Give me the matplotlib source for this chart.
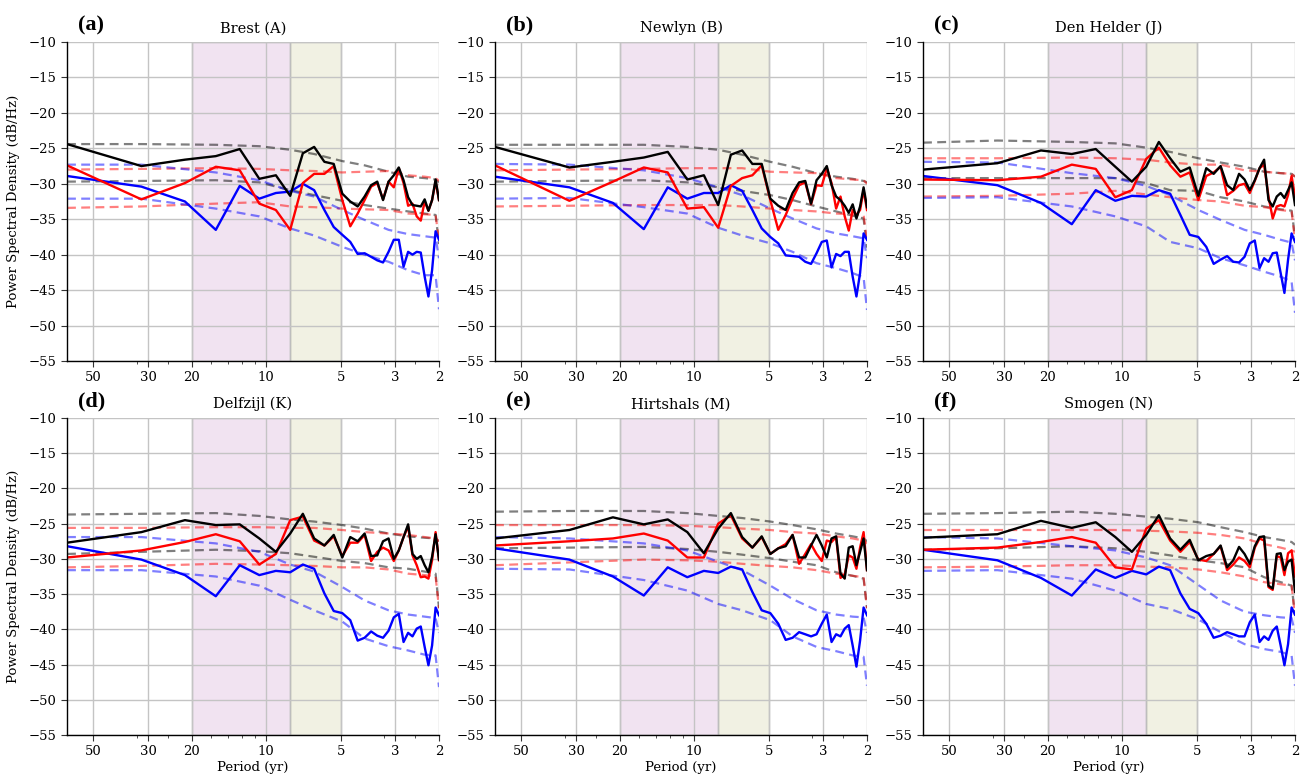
import numpy as np
import matplotlib
matplotlib.use("Agg")
import matplotlib.pyplot as plt
from matplotlib.ticker import FixedLocator, FixedFormatter, NullFormatter, LogLocator

plt.rcParams["font.family"] = ["DejaVu Serif"]
plt.rcParams["axes.unicode_minus"] = True

# ---------------- data ----------------
RECORD_YEARS = 64
HARMONICS = list(range(1, 33))                 # spectral bins k -> frequency k/64 cpy
DASH_HARMONICS = [1, 2, 4, 6, 8, 10, 13, 16, 20, 24, 28, 31, 32]

STATIONS = ["Brest (A)", "Newlyn (B)", "Den Helder (J)",
            "Delfzijl (K)", "Hirtshals (M)", "Smogen (N)"]
PANEL_LABELS = ["(a)", "(b)", "(c)", "(d)", "(e)", "(f)"]

PERIOD_TICKS = [50, 30, 20, 10, 5, 3, 2]
PERIOD_TICK_LABELS = ["50", "30", "20", "10", "5", "3", "2"]
PSD_TICKS = [-10, -15, -20, -25, -30, -35, -40, -45, -50, -55]
BAND_DECADAL = (20, 8)
BAND_INTERANNUAL = (8, 5)

# Brest (A)
BREST_BLACK = [-24.4, -27.5, -26.6, -26.1, -25.1, -29.3, -28.8, -31.7, -25.7, -24.8, -26.9, -27.2,
               -31.4, -32.5, -33.2, -31.8, -30.2, -29.7, -32.3, -29.7, -28.8, -27.7, -29.5, -31.9,
               -33.0, -33.1, -33.2, -32.2, -33.8, -32.3, -29.4, -32.3]
BREST_RED = [-27.4, -32.2, -29.9, -27.6, -28.1, -32.8, -33.7, -36.5, -29.9, -28.6, -28.6, -27.5,
             -32.3, -36.0, -34.2, -32.3, -30.4, -29.9, -32.2, -29.7, -30.5, -27.8, -29.9, -33.1,
             -32.8, -34.6, -35.2, -32.5, -33.8, -32.3, -29.7, -32.3]
BREST_BLUE = [-28.9, -30.4, -32.5, -36.5, -30.3, -32.1, -31.3, -31.1, -30.0, -30.9, -33.7, -36.1,
              -37.2, -38.2, -39.9, -39.8, -40.3, -40.8, -41.1, -39.6, -37.9, -37.9, -41.7, -39.6,
              -40.0, -39.6, -39.7, -43.1, -45.9, -42.2, -36.7, -37.9]
BREST_BLACK_HI = [-24.4, -24.4, -24.5, -24.7, -25.2, -25.8, -26.8, -27.4, -28.3, -29.0, -29.2, -29.4, -29.8]
BREST_BLACK_LO = [-29.7, -29.6, -29.5, -29.8, -30.9, -31.6, -32.4, -33.0, -33.5, -33.9, -34.2, -34.4, -38.5]
BREST_RED_HI = [-28.0, -27.9, -27.8, -27.9, -28.1, -28.2, -28.4, -28.3, -28.2, -28.8, -29.0, -29.2, -29.6]
BREST_RED_LO = [-33.4, -33.2, -32.8, -32.6, -33.2, -33.3, -33.5, -33.6, -33.7, -34.2, -34.3, -34.4, -38.0]
BREST_BLUE_HI = [-27.3, -27.3, -28.4, -29.5, -31.0, -31.8, -33.7, -35.1, -36.5, -37.1, -37.4, -37.6, -40.5]
BREST_BLUE_LO = [-32.1, -32.1, -33.5, -34.6, -36.3, -37.3, -38.9, -40.0, -41.0, -42.2, -42.9, -42.9, -47.7]

# Newlyn (B)
NEWLYN_BLACK = [-24.8, -27.7, -26.9, -26.3, -25.5, -29.4, -28.8, -33.0, -25.9, -25.3, -27.2, -27.2,
                -32.1, -33.1, -33.7, -31.3, -29.8, -29.6, -32.8, -29.5, -28.6, -27.5, -30.2, -31.8,
                -32.3, -33.1, -34.1, -32.9, -34.9, -33.2, -30.5, -33.3]
NEWLYN_RED = [-27.4, -32.4, -29.7, -27.7, -28.4, -33.5, -33.3, -36.2, -30.3, -29.2, -28.8, -27.4,
              -32.3, -36.5, -34.4, -32.1, -30.2, -29.8, -32.9, -30.2, -30.3, -27.8, -29.9, -33.5,
              -31.8, -34.6, -36.6, -33.7, -34.4, -33.7, -30.9, -33.7]
NEWLYN_BLUE = [-29.0, -30.5, -32.7, -36.4, -30.5, -32.1, -31.3, -31.3, -30.2, -31.0, -33.7, -36.3,
               -37.5, -38.4, -40.1, -40.2, -40.3, -41.0, -41.3, -39.8, -38.2, -38.0, -41.8, -39.9,
               -40.2, -39.6, -39.6, -43.1, -45.9, -42.6, -37.0, -37.9]
NEWLYN_BLACK_HI = [-24.5, -24.5, -24.5, -24.8, -25.2, -25.9, -26.9, -27.6, -28.5, -29.0, -29.3, -29.6, -29.8]
NEWLYN_BLACK_LO = [-29.7, -29.6, -29.5, -29.8, -30.5, -31.0, -31.6, -32.3, -33.2, -33.9, -34.5, -34.9, -39.0]
NEWLYN_RED_HI = [-28.1, -28.0, -27.9, -27.8, -27.8, -27.8, -28.3, -28.4, -28.5, -29.2, -29.4, -29.5, -30.0]
NEWLYN_RED_LO = [-33.2, -33.1, -33.0, -33.0, -33.0, -33.2, -33.5, -33.7, -33.9, -34.2, -34.3, -34.4, -38.0]
NEWLYN_BLUE_HI = [-27.2, -27.3, -28.1, -29.2, -30.5, -31.6, -33.5, -34.9, -36.3, -37.0, -37.4, -37.7, -40.5]
NEWLYN_BLUE_LO = [-32.1, -32.0, -33.3, -34.2, -36.2, -37.3, -38.4, -39.6, -41.2, -41.9, -42.6, -43.2, -47.8]

# Den Helder (J)
DENHELDER_BLACK = [-28.0, -27.1, -25.3, -25.8, -25.1, -27.6, -29.7, -27.6, -24.1, -26.4, -28.3, -27.7,
                   -31.7, -27.8, -28.6, -27.5, -30.2, -30.9, -28.6, -29.4, -30.9, -29.5, -27.8, -26.6,
                   -32.3, -33.2, -31.8, -31.3, -32.0, -30.9, -29.8, -33.0]
DENHELDER_RED = [-29.4, -29.5, -29.0, -27.3, -27.9, -31.9, -30.9, -26.5, -24.9, -27.4, -29.0, -28.4,
                 -32.3, -28.9, -28.4, -27.6, -31.6, -31.0, -30.2, -30.0, -31.3, -29.6, -27.8, -27.3,
                 -31.8, -34.9, -33.2, -33.0, -33.2, -31.6, -28.9, -31.8]
DENHELDER_BLUE = [-28.9, -30.2, -32.7, -35.7, -30.9, -32.4, -31.7, -31.8, -30.9, -31.4, -34.4, -37.2,
                  -37.5, -38.9, -41.3, -40.7, -40.2, -41.0, -41.1, -40.3, -38.4, -38.0, -41.9, -40.5,
                  -41.0, -39.8, -39.7, -42.6, -45.4, -40.7, -37.0, -38.2]
DENHELDER_BLACK_HI = [-24.2, -23.9, -24.1, -24.3, -24.9, -25.5, -26.4, -27.0, -27.6, -28.3, -28.5, -28.6, -29.0]
DENHELDER_BLACK_LO = [-29.2, -29.2, -29.2, -29.2, -29.9, -30.9, -31.0, -31.9, -32.5, -33.2, -33.6, -33.8, -37.5]
DENHELDER_RED_HI = [-26.4, -26.4, -26.3, -26.4, -26.6, -27.0, -27.3, -27.3, -28.1, -28.3, -28.5, -28.6, -29.0]
DENHELDER_RED_LO = [-31.8, -31.7, -31.4, -31.0, -31.5, -31.9, -32.3, -32.5, -33.1, -33.3, -33.7, -33.9, -38.0]
DENHELDER_BLUE_HI = [-26.9, -27.0, -28.5, -29.2, -30.3, -31.6, -33.7, -35.1, -36.5, -37.2, -37.9, -38.3, -40.8]
DENHELDER_BLUE_LO = [-32.0, -31.9, -33.2, -34.6, -36.0, -38.2, -39.1, -40.5, -41.5, -42.4, -43.1, -43.8, -48.2]

# Delfzijl (K)
DELFZIJL_BLACK = [-27.7, -26.2, -24.5, -25.2, -25.1, -27.1, -29.0, -26.4, -23.6, -27.1, -28.1, -26.6,
                  -29.8, -26.9, -27.5, -26.4, -29.6, -29.5, -27.5, -27.1, -30.0, -28.8, -26.9, -25.1,
                  -29.3, -30.0, -29.6, -30.9, -31.9, -29.7, -26.5, -30.1]
DELFZIJL_RED = [-29.8, -28.8, -27.6, -26.5, -27.5, -30.8, -29.3, -24.5, -24.0, -27.4, -28.1, -26.8,
                -29.6, -27.7, -27.7, -26.6, -30.3, -29.0, -28.4, -28.8, -30.3, -28.8, -26.9, -25.4,
                -29.5, -30.9, -32.6, -32.5, -32.8, -30.2, -26.2, -30.2]
DELFZIJL_BLUE = [-28.2, -30.1, -32.3, -35.3, -30.9, -32.3, -31.7, -31.9, -30.8, -31.4, -34.9, -37.4,
                 -37.7, -38.7, -41.6, -41.2, -40.3, -40.9, -41.2, -40.2, -38.3, -37.8, -41.8, -40.5,
                 -41.0, -39.9, -39.6, -42.5, -45.1, -42.3, -36.9, -38.0]
DELFZIJL_BLACK_HI = [-23.7, -23.6, -23.5, -23.9, -24.4, -24.7, -25.2, -25.7, -26.4, -26.8, -27.0, -27.1, -27.5]
DELFZIJL_BLACK_LO = [-29.3, -29.0, -28.7, -28.9, -29.2, -29.7, -30.3, -30.6, -31.2, -31.4, -31.8, -32.1, -37.0]
DELFZIJL_RED_HI = [-25.6, -25.6, -25.5, -25.5, -25.6, -25.6, -25.9, -26.2, -26.4, -26.6, -26.9, -27.1, -27.5]
DELFZIJL_RED_LO = [-31.2, -31.0, -30.7, -30.8, -30.9, -31.0, -31.2, -31.2, -31.5, -32.1, -32.3, -32.5, -37.0]
DELFZIJL_BLUE_HI = [-26.9, -26.9, -27.8, -29.0, -30.8, -31.8, -34.0, -35.9, -37.3, -37.9, -38.2, -38.4, -40.5]
DELFZIJL_BLUE_LO = [-31.6, -31.6, -32.5, -33.8, -35.8, -37.3, -38.9, -41.3, -42.4, -43.0, -43.6, -43.7, -48.2]

# Hirtshals (M)
HIRTSHALS_BLACK = [-27.1, -25.9, -24.1, -25.1, -24.4, -26.2, -29.2, -25.7, -23.5, -26.9, -28.4, -26.8,
                   -29.3, -28.5, -28.2, -26.6, -29.8, -29.8, -28.1, -26.6, -28.1, -29.8, -27.1, -26.8,
                   -32.1, -32.8, -28.4, -28.2, -30.9, -29.0, -27.1, -31.6]
HIRTSHALS_RED = [-28.1, -27.5, -27.1, -26.4, -27.4, -29.8, -29.8, -25.0, -23.8, -27.1, -28.4, -26.9,
                 -29.3, -28.5, -27.9, -26.6, -30.7, -29.3, -27.9, -29.3, -30.3, -27.4, -27.6, -26.9,
                 -32.7, -32.2, -29.5, -29.8, -31.4, -28.4, -26.2, -31.6]
HIRTSHALS_BLUE = [-28.5, -30.1, -32.5, -35.2, -31.2, -32.6, -31.7, -32.0, -31.1, -31.5, -34.7, -37.3,
                  -37.7, -39.2, -41.5, -41.2, -40.4, -40.7, -41.0, -40.7, -39.2, -37.9, -41.8, -40.7,
                  -41.0, -39.9, -39.4, -42.3, -45.3, -41.6, -36.9, -38.0]
HIRTSHALS_BLACK_HI = [-23.3, -23.2, -23.2, -23.5, -23.9, -24.2, -24.7, -25.2, -25.8, -26.4, -26.8, -27.1, -27.5]
HIRTSHALS_BLACK_LO = [-28.5, -28.4, -28.3, -28.6, -29.0, -29.4, -29.9, -30.4, -30.9, -31.9, -32.4, -32.8, -37.0]
HIRTSHALS_RED_HI = [-25.2, -25.2, -25.2, -25.3, -25.5, -25.7, -25.9, -26.2, -26.4, -26.8, -27.1, -27.4, -27.8]
HIRTSHALS_RED_LO = [-30.9, -30.5, -30.1, -30.2, -30.4, -30.7, -31.0, -31.2, -31.6, -32.1, -32.4, -32.6, -37.0]
HIRTSHALS_BLUE_HI = [-26.9, -27.1, -27.8, -28.8, -30.4, -31.6, -33.8, -35.7, -37.3, -37.9, -38.2, -38.3, -40.5]
HIRTSHALS_BLUE_LO = [-31.4, -31.5, -33.0, -34.5, -36.4, -37.3, -38.7, -41.0, -42.5, -43.1, -43.7, -43.9, -48.0]

# Smogen (N)
SMOGEN_BLACK = [-27.0, -26.5, -24.6, -25.6, -24.8, -26.9, -29.0, -26.6, -23.8, -27.1, -28.7, -27.3,
                -30.2, -29.6, -29.3, -28.1, -31.2, -30.2, -28.3, -29.3, -30.7, -28.2, -26.9, -26.8,
                -33.8, -34.2, -29.3, -29.2, -31.6, -30.4, -30.1, -34.7]
SMOGEN_RED = [-28.7, -28.4, -27.6, -26.9, -27.7, -31.2, -31.5, -25.7, -24.5, -27.4, -29.0, -27.6,
              -30.1, -30.3, -29.3, -28.2, -31.6, -30.8, -29.8, -30.3, -31.2, -28.4, -27.1, -27.4,
              -34.0, -34.4, -29.6, -29.8, -32.3, -29.2, -28.8, -32.5]
SMOGEN_BLUE = [-28.7, -30.2, -32.7, -35.2, -31.5, -32.7, -31.7, -32.2, -31.1, -31.6, -34.9, -37.1,
               -37.7, -39.2, -41.2, -40.9, -40.4, -40.7, -41.0, -41.0, -39.0, -37.9, -41.8, -41.0,
               -41.5, -40.2, -39.6, -42.3, -45.1, -42.1, -36.9, -37.9]
SMOGEN_BLACK_HI = [-23.6, -23.5, -23.3, -23.6, -24.0, -24.3, -24.8, -25.5, -26.2, -26.9, -27.3, -27.6, -28.0]
SMOGEN_BLACK_LO = [-28.7, -28.5, -28.2, -28.5, -29.0, -29.5, -30.2, -30.6, -31.2, -32.6, -33.3, -33.8, -38.0]
SMOGEN_RED_HI = [-25.9, -25.9, -25.9, -25.9, -26.0, -26.1, -26.3, -26.6, -27.1, -27.9, -28.4, -28.8, -29.0]
SMOGEN_RED_LO = [-31.2, -31.1, -30.9, -30.9, -31.1, -31.2, -31.5, -31.9, -32.5, -33.3, -33.6, -33.8, -38.0]
SMOGEN_BLUE_HI = [-26.9, -27.1, -28.2, -28.8, -29.8, -30.9, -33.7, -35.9, -37.5, -38.0, -38.3, -38.4, -40.5]
SMOGEN_BLUE_LO = [-31.7, -31.6, -32.8, -34.5, -36.4, -37.1, -38.6, -40.4, -42.1, -42.8, -43.2, -43.7, -48.0]

SOLID = [
    (BREST_BLACK, BREST_RED, BREST_BLUE),
    (NEWLYN_BLACK, NEWLYN_RED, NEWLYN_BLUE),
    (DENHELDER_BLACK, DENHELDER_RED, DENHELDER_BLUE),
    (DELFZIJL_BLACK, DELFZIJL_RED, DELFZIJL_BLUE),
    (HIRTSHALS_BLACK, HIRTSHALS_RED, HIRTSHALS_BLUE),
    (SMOGEN_BLACK, SMOGEN_RED, SMOGEN_BLUE),
]
BOUNDS = [
    (BREST_BLACK_HI, BREST_BLACK_LO, BREST_RED_HI, BREST_RED_LO, BREST_BLUE_HI, BREST_BLUE_LO),
    (NEWLYN_BLACK_HI, NEWLYN_BLACK_LO, NEWLYN_RED_HI, NEWLYN_RED_LO, NEWLYN_BLUE_HI, NEWLYN_BLUE_LO),
    (DENHELDER_BLACK_HI, DENHELDER_BLACK_LO, DENHELDER_RED_HI, DENHELDER_RED_LO, DENHELDER_BLUE_HI, DENHELDER_BLUE_LO),
    (DELFZIJL_BLACK_HI, DELFZIJL_BLACK_LO, DELFZIJL_RED_HI, DELFZIJL_RED_LO, DELFZIJL_BLUE_HI, DELFZIJL_BLUE_LO),
    (HIRTSHALS_BLACK_HI, HIRTSHALS_BLACK_LO, HIRTSHALS_RED_HI, HIRTSHALS_RED_LO, HIRTSHALS_BLUE_HI, HIRTSHALS_BLUE_LO),
    (SMOGEN_BLACK_HI, SMOGEN_BLACK_LO, SMOGEN_RED_HI, SMOGEN_RED_LO, SMOGEN_BLUE_HI, SMOGEN_BLUE_LO),
]

# ---------------- figure ----------------
W, H = 1304, 775
fig = plt.figure(figsize=(W / 100, H / 100), dpi=100)

col_left = [67, 495, 923]
ax_w = 372
row_top = [42, 418]
ax_h = [319, 317]

freq = np.array(HARMONICS) / RECORD_YEARS
freq_d = np.array(DASH_HARMONICS) / RECORD_YEARS

for i in range(6):
    r, c = divmod(i, 3)
    left = col_left[c] / W
    bottom = 1 - (row_top[r] + ax_h[r]) / H
    ax = fig.add_axes([left, bottom, ax_w / W, ax_h[r] / H])

    ax.axvspan(1 / BAND_DECADAL[0], 1 / BAND_DECADAL[1], facecolor=(0.5, 0, 0.5, 0.11),
               edgecolor="#bdbdbd", lw=1.0, zorder=0.5)
    ax.axvspan(1 / BAND_INTERANNUAL[0], 1 / BAND_INTERANNUAL[1], facecolor=(0.5, 0.5, 0, 0.11),
               edgecolor="#bdbdbd", lw=1.0, zorder=0.5)

    bhi, blo, rhi, rlo, uhi, ulo = BOUNDS[i]
    for vals, col in [(bhi, "black"), (blo, "black"), (rhi, "red"), (rlo, "red"),
                      (uhi, "blue"), (ulo, "blue")]:
        ax.plot(freq_d, vals, color=col, alpha=0.5, ls="--", lw=1.6, dashes=(4, 2.4))

    blk, red, blu = SOLID[i]
    ax.plot(freq, blu, color="blue", lw=1.7)
    ax.plot(freq, red, color="red", lw=1.7)
    ax.plot(freq, blk, color="black", lw=1.7)

    ax.set_xscale("log")
    ax.set_xlim(1 / RECORD_YEARS, 1 / 2)
    ax.set_ylim(-55, -10)
    ax.xaxis.set_major_locator(FixedLocator([1 / p for p in PERIOD_TICKS]))
    ax.xaxis.set_major_formatter(FixedFormatter(PERIOD_TICK_LABELS))
    ax.xaxis.set_minor_locator(LogLocator(base=10, subs=np.arange(2, 10)))
    ax.xaxis.set_minor_formatter(NullFormatter())
    ax.set_yticks(PSD_TICKS)

    ax.grid(True, which="major", color="#c4c4c4", lw=1.0)
    for s in ["top", "right"]:
        ax.spines[s].set_visible(False)
    for s in ["left", "bottom"]:
        ax.spines[s].set_color("black")
        ax.spines[s].set_linewidth(1.0)
    ax.tick_params(axis="both", which="major", labelsize=9.5, length=4, color="#333333")
    ax.tick_params(axis="x", which="minor", length=2, color="#333333")

    ax.set_title(STATIONS[i], fontsize=10.5, pad=7)
    ax.text(0.03, 1.02, PANEL_LABELS[i], transform=ax.transAxes, ha="left", va="bottom",
            fontsize=16, fontweight="bold", family=["Liberation Serif"])
    if c == 0:
        ax.set_ylabel("Power Spectral Density (dB/Hz)", fontsize=9.5, labelpad=6)
    if r == 1:
        ax.set_xlabel("Period (yr)", fontsize=9.5, labelpad=2)

fig.savefig("out.png", dpi=100)
